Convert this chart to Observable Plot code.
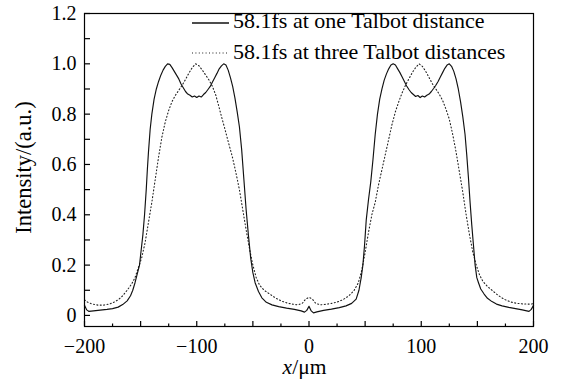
<!DOCTYPE html>
<html>
<head>
<meta charset="utf-8">
<script src="https://cdn.jsdelivr.net/npm/d3@7"></script>
<script src="https://cdn.jsdelivr.net/npm/@observablehq/plot@0.6"></script>
<style>
  html, body { margin: 0; padding: 0; background: #fff; }
  #chart { position: relative; width: 565px; height: 381px; }
  svg { font-family: "Liberation Serif", "Times New Roman", serif; }
</style>
</head>
<body>
<div id="chart"></div>
<script>
// ---- data ----
const solidLabel = "58.1fs at one Talbot distance";
const dottedLabel = "58.1fs at three Talbot distances";

const solidX = [-200,-198,-196,-192,-186,-180,-175,-170,-166,-162,-159,-157,-155,-153,-151,-149.5,-148,-146.5,-145,-144,-143,-141.5,-140,-138,-136,-134,-132,-130,-128,-126,-124,-122,-120,-118,-116,-114,-112,-110,-108,-106,-104,-102,-100,-98,-96,-94,-92,-90,-88,-86,-84,-82,-80,-78,-76,-74,-72,-70,-68,-66,-64,-62,-60,-58,-56,-54,-52,-50,-48,-45,-42,-38,-33,-27,-20,-13,-7,-4,-2,0,2,4,7,13,20,27,33,38,42,44.5,46.5,48,49.5,51,53,55,57,59,61,63,65,67,69,71,73,75,77,79,81,83,85,87,89,91,93,95,97,99,101,103,105,107,109,111,113,115,117,119,121,123,125,127,129,131,133,135,137,139,140.5,142,143.5,145,146.5,148,149.5,151,153,156,159,163,167,172,178,184,190,194,196,198,200];
const solidY = [0.040,0.022,0.016,0.018,0.021,0.024,0.027,0.033,0.043,0.058,0.078,0.10,0.13,0.165,0.20,0.26,0.32,0.40,0.50,0.58,0.65,0.74,0.80,0.86,0.90,0.93,0.955,0.975,0.99,1.0,0.998,0.985,0.97,0.955,0.94,0.92,0.905,0.89,0.88,0.875,0.868,0.872,0.866,0.872,0.868,0.878,0.886,0.898,0.91,0.928,0.945,0.962,0.98,0.992,1.0,0.995,0.975,0.945,0.91,0.865,0.81,0.75,0.66,0.54,0.42,0.32,0.23,0.17,0.13,0.095,0.07,0.052,0.042,0.035,0.029,0.024,0.018,0.013,0.02,0.036,0.018,0.010,0.014,0.02,0.025,0.031,0.038,0.048,0.065,0.10,0.15,0.20,0.28,0.38,0.46,0.53,0.62,0.72,0.80,0.86,0.90,0.935,0.96,0.98,0.995,1.0,0.995,0.98,0.965,0.948,0.93,0.912,0.898,0.886,0.878,0.87,0.874,0.866,0.872,0.868,0.875,0.88,0.89,0.902,0.915,0.93,0.948,0.965,0.982,0.995,1.0,0.99,0.97,0.94,0.90,0.85,0.79,0.72,0.64,0.55,0.45,0.36,0.28,0.20,0.15,0.13,0.105,0.085,0.068,0.055,0.045,0.038,0.032,0.027,0.022,0.018,0.016,0.024,0.040];

const dottedX = [-200,-197,-193,-188,-183,-178,-174,-170,-166,-162,-158,-155,-152,-149,-146,-143,-140,-137,-134,-131,-128,-125,-122,-119,-116,-113,-110,-107,-104,-101,-98,-95,-92,-89,-86,-83,-80,-77,-74,-71,-68,-65,-62,-59,-56,-53,-50,-47,-44,-40,-35,-30,-25,-20,-15,-10,-6,-3,0,3,6,10,15,20,25,30,35,40,44,47,50,53,56,59,62,65,68,71,74,77,80,83,86,89,92,95,98,101,104,107,110,113,116,119,122,125,128,131,134,137,140,143,146,149,152,155,159,163,167,171,175,180,185,190,195,198,200];
const dottedY = [0.062,0.052,0.045,0.041,0.041,0.045,0.052,0.062,0.078,0.10,0.125,0.15,0.19,0.23,0.29,0.37,0.45,0.54,0.63,0.71,0.77,0.815,0.85,0.875,0.895,0.915,0.938,0.963,0.985,1.0,0.992,0.975,0.955,0.935,0.91,0.875,0.825,0.775,0.725,0.675,0.625,0.565,0.50,0.42,0.34,0.265,0.20,0.15,0.12,0.10,0.085,0.07,0.058,0.05,0.045,0.042,0.048,0.065,0.072,0.065,0.048,0.042,0.044,0.048,0.053,0.062,0.076,0.098,0.13,0.18,0.25,0.33,0.40,0.45,0.52,0.58,0.64,0.70,0.76,0.81,0.85,0.885,0.915,0.94,0.965,0.985,1.0,0.99,0.97,0.945,0.92,0.90,0.88,0.855,0.82,0.78,0.72,0.65,0.57,0.49,0.40,0.32,0.25,0.20,0.16,0.135,0.115,0.10,0.085,0.072,0.062,0.053,0.048,0.046,0.045,0.045,0.047];

const xMajorTicks = [-200,-100,0,100,200];
const xTickMarks50 = [-200,-150,-100,-50,0,50,100,150,200];
const xTickMarks25 = [-175,-125,-75,-25,25,75,125,175];
const yMajorTicks = [0,0.2,0.4,0.6,0.8,1.0,1.2];
const yTickMarks = [0,0.1,0.2,0.3,0.4,0.5,0.6,0.7,0.8,0.9,1.0,1.1,1.2];

// ---- layout ----
const W = 565, H = 381;
const mL = 84, mR = 32, mT = 13, mB = 55;
const plotW = W - mL - mR, plotH = H - mT - mB;

const solid = solidX.map((x, i) => ({x, y: solidY[i]}));
const dotted = dottedX.map((x, i) => ({x, y: dottedY[i]}));

const chart = Plot.plot({
  width: W, height: H,
  marginLeft: mL, marginRight: mR, marginTop: mT, marginBottom: mB,
  style: {fontFamily: '"Liberation Serif", "Times New Roman", serif', fontSize: "20px", color: "#000", background: "#fff"},
  x: {domain: [-200, 200]},
  y: {domain: [-0.044, 1.2]},
  marks: [
    Plot.axisX(xMajorTicks, {tickSize: 0, tickPadding: 12, fontSize: 20, label: null}),
    Plot.axisY(yMajorTicks, {tickSize: 0, tickPadding: 8, fontSize: 20, label: null,
      tickFormat: d => d === 0 ? "0" : d.toFixed(1)}),
    Plot.tickX(xTickMarks50, {x: d => d, insetTop: plotH - 5, stroke: "#000", strokeWidth: 1.2}),
    Plot.tickX(xTickMarks25, {x: d => d, insetTop: plotH - 2.5, stroke: "#000", strokeWidth: 1.2}),
    Plot.tickY(yTickMarks, {y: d => d, insetRight: plotW - 6, stroke: "#000", strokeWidth: 1.2}),
    Plot.line(dotted, {x: "x", y: "y", stroke: "#222", strokeWidth: 1.1, strokeDasharray: "1,2.4"}),
    Plot.line(solid, {x: "x", y: "y", stroke: "#111", strokeWidth: 1.15}),
    Plot.frame({stroke: "#000", strokeWidth: 1.2})
  ]
});

document.getElementById("chart").appendChild(chart);

// ---- axis titles and legend ----
const svg = d3.select(chart);
const ff = '"Liberation Serif", "Times New Roman", serif';

svg.append("text")
  .attr("transform", `translate(31, 167.5) rotate(-90)`)
  .attr("text-anchor", "middle")
  .attr("font-family", ff).attr("font-size", 22.5).attr("fill", "#000")
  .text("Intensity/(a.u.)");

const xl = svg.append("text")
  .attr("x", mL + plotW / 2 - 4).attr("y", 374)
  .attr("text-anchor", "middle")
  .attr("font-family", ff).attr("font-size", 21.5).attr("fill", "#000");
xl.append("tspan").attr("font-style", "italic").text("x");
xl.append("tspan").text("/μm");

const lg = svg.append("g").attr("text-anchor", "start");
lg.append("line").attr("x1", 192).attr("x2", 229).attr("y1", 23).attr("y2", 23)
  .attr("stroke", "#111").attr("stroke-width", 1.3);
lg.append("text").attr("x", 233).attr("y", 28).attr("text-anchor", "start")
  .attr("font-family", ff).attr("font-size", 22).attr("fill", "#000").text(solidLabel);
lg.append("line").attr("x1", 192).attr("x2", 229).attr("y1", 53).attr("y2", 53)
  .attr("stroke", "#222").attr("stroke-width", 1.1).attr("stroke-dasharray", "1,2.4");
lg.append("text").attr("x", 233).attr("y", 59).attr("text-anchor", "start")
  .attr("font-family", ff).attr("font-size", 22).attr("fill", "#000").text(dottedLabel);
</script>
</body>
</html>
